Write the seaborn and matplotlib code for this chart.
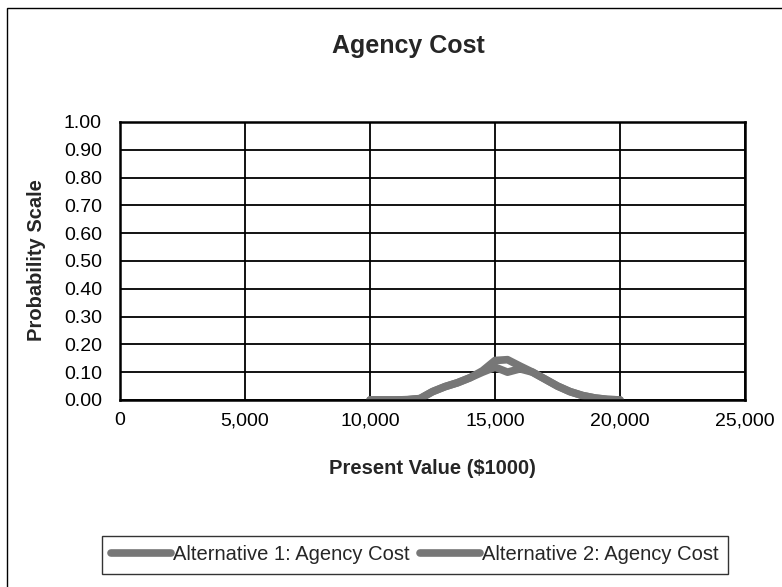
import pandas as pd
import seaborn as sns
import matplotlib.pyplot as plt
from matplotlib.patches import Rectangle

# values
present_value = [10000, 10500, 11000, 11500, 12000, 12500, 13000, 13500, 14000, 14500,
                 15000, 15500, 16000, 16500, 17000, 17500, 18000, 18500, 19000, 19500, 20000]
alt1 = [0.0, 0.0, 0.0, 0.001, 0.005, 0.030, 0.048, 0.062, 0.080, 0.105,
        0.142, 0.145, 0.122, 0.100, 0.075, 0.050, 0.030, 0.016, 0.007, 0.002, 0.0]
alt2 = [0.0, 0.0, 0.0, 0.001, 0.005, 0.030, 0.048, 0.062, 0.080, 0.100,
        0.118, 0.100, 0.112, 0.100, 0.075, 0.050, 0.030, 0.016, 0.007, 0.002, 0.0]
series_names = ["Alternative 1: Agency Cost", "Alternative 2: Agency Cost"]

df = pd.concat([
    pd.DataFrame({"pv": present_value, "p": alt1, "series": series_names[0]}),
    pd.DataFrame({"pv": present_value, "p": alt2, "series": series_names[1]}),
])

sns.set_theme(style="white")
plt.rcParams["font.family"] = ["Liberation Sans", "DejaVu Sans"]

line_col = "#777777"
fig = plt.figure(figsize=(7.82, 5.87), dpi=100)
ax = fig.add_axes([0.1535, 0.3186, 0.7992, 0.4736])

sns.lineplot(data=df, x="pv", y="p", hue="series", palette=[line_col, line_col],
             linewidth=5.5, ax=ax, legend=False)

ax.set_xlim(0, 25000)
ax.set_ylim(0, 1.0)
ax.set_xticks(range(0, 25001, 5000))
ax.set_xticklabels([f"{v:,}" for v in range(0, 25001, 5000)], fontsize=14)
yt = [i / 10 for i in range(11)]
ax.set_yticks(yt)
ax.set_yticklabels([f"{v:.2f}" for v in yt], fontsize=14)
ax.tick_params(axis="both", length=0, colors="black")
ax.tick_params(axis="x", pad=9)
ax.tick_params(axis="y", pad=13)
ax.grid(True, color="black", linewidth=1.3)
ax.set_axisbelow(True)
for s in ax.spines.values():
    s.set_color("black")
    s.set_linewidth(1.8)
ax.set_xlabel("")
ax.set_ylabel("")

fig.text(37 / 782, 1 - 260 / 587, "Probability Scale", rotation=90, ha="center", va="center",
         fontsize=14.5, fontweight="bold")
fig.text(432 / 782, 1 - 468 / 587, "Present Value ($1000)", ha="center", va="center",
         fontsize=14.5, fontweight="bold")
fig.text(408 / 782, 1 - 46 / 587, "Agency Cost", ha="center", va="center",
         fontsize=18, fontweight="bold")

handles = [plt.Line2D([], [], color=line_col, linewidth=5.5) for _ in series_names]
leg = fig.legend(handles, series_names, loc="center", bbox_to_anchor=(415 / 782, 1 - 555 / 587),
                 ncol=2, fontsize=14.5, frameon=True, fancybox=False, edgecolor="black",
                 handlelength=3.0, handletextpad=0.1, columnspacing=0.5, borderpad=0.45,
                 borderaxespad=0)
leg.get_frame().set_linewidth(1.0)

# outer chart border
fig.add_artist(Rectangle((7 / 782, -0.05), 1.2, 1.05 - 8 / 587, transform=fig.transFigure,
                         fill=False, edgecolor="black", linewidth=1.0))

fig.savefig("out.png", dpi=100)
